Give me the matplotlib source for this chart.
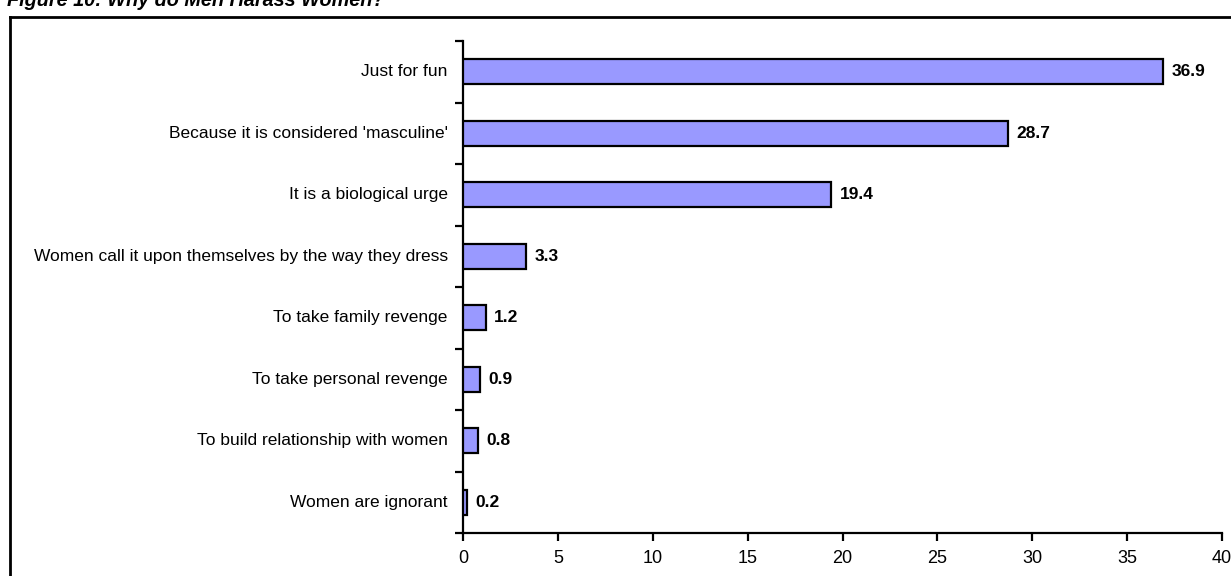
import matplotlib
matplotlib.use("Agg")
import matplotlib.pyplot as plt
from matplotlib import font_manager
from matplotlib.lines import Line2D

categories = [
    "Just for fun",
    "Because it is considered 'masculine'",
    "It is a biological urge",
    "Women call it upon themselves by the way they dress",
    "To take family revenge",
    "To take personal revenge",
    "To build relationship with women",
    "Women are ignorant",
]
values = [36.9, 28.7, 19.4, 3.3, 1.2, 0.9, 0.8, 0.2]
x_ticks = [0, 5, 10, 15, 20, 25, 30, 35, 40]
title = "Figure 10: Why do Men Harass Women?"

installed = {f.name for f in font_manager.fontManager.ttflist}
narrow = "Liberation Sans Narrow" if "Liberation Sans Narrow" in installed else "Liberation Sans"
plt.rcParams["font.family"] = [narrow, "DejaVu Sans"]

W, H = 1231, 576
fig = plt.figure(figsize=(W / 100, H / 100), dpi=100)

# outer frame (left and top edges visible)
fx0 = 9.5 / W
fy1 = 1 - 16.5 / H
fig.add_artist(Line2D([fx0, fx0], [0, fy1], transform=fig.transFigure, color="black", lw=2))
fig.add_artist(Line2D([fx0, 1], [fy1, fy1], transform=fig.transFigure, color="black", lw=2))

# title running off the top edge
fig.text(7 / W, 1 - 6 / H, title, fontsize=14.3, fontweight="bold", fontstyle="italic",
         family=["Liberation Sans", "DejaVu Sans"], va="baseline", ha="left")

ax = fig.add_axes([463 / W, 1 - 533 / H, (1222 - 463) / W, (533 - 41) / H])

n = len(categories)
ypos = list(range(n))[::-1]
ax.barh(ypos, values, height=0.4, color="#9999FF", edgecolor="black", linewidth=1.6, zorder=3)

for y, v in zip(ypos, values):
    ax.text(v + 0.45, y, f"{v:.1f}", va="center", ha="left", fontsize=12.5, fontweight="bold")

ax.set_xlim(0, 40)
ax.set_ylim(-0.5, n - 0.5)
ax.set_xticks(x_ticks)
ax.set_xticklabels([str(t) for t in x_ticks], fontsize=13)

# category labels at bar centres, tick marks at category boundaries
ax.set_yticks([i - 0.5 for i in range(n + 1)])
ax.set_yticklabels([])
ax.tick_params(axis="y", direction="out", length=6, width=1.6)
ax.tick_params(axis="x", direction="out", length=6, width=1.6, pad=6)
for y, c in zip(ypos, categories):
    ax.text(-0.8, y, c, ha="right", va="center", fontsize=12.5,
            transform=ax.transData)

for s in ["top", "right"]:
    ax.spines[s].set_visible(False)
for s in ["left", "bottom"]:
    ax.spines[s].set_linewidth(1.6)

fig.savefig("out.png", dpi=100)
